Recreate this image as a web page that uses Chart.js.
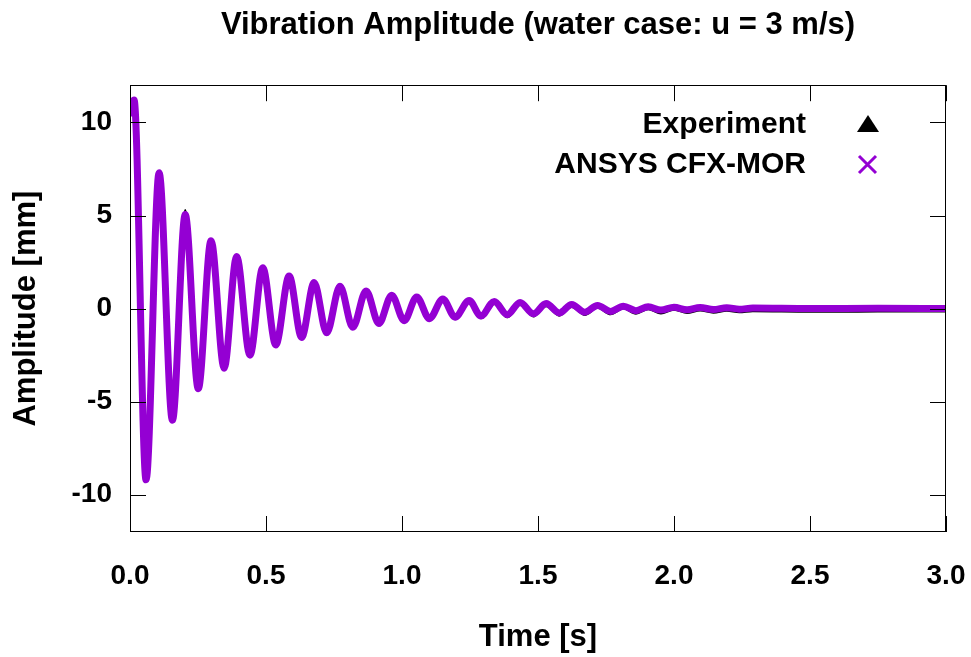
<!DOCTYPE html>
<html>
<head>
<meta charset="utf-8">
<title>Vibration Amplitude</title>
<script src="https://cdn.jsdelivr.net/npm/chart.js@4.4.1/dist/chart.umd.min.js"></script>
<style>
  body { margin: 0; background: #fff; }
</style>
</head>
<body>
<canvas id="myChart" width="971" height="657"></canvas>
<script>
// time of each peak / trough [s]
var times = [0, 0.015, 0.059, 0.107, 0.156, 0.203, 0.251, 0.298, 0.346, 0.392,
             0.441, 0.488, 0.536, 0.585, 0.631, 0.677, 0.723, 0.772, 0.819, 0.868,
             0.915, 0.962, 1.008, 1.054, 1.101, 1.150, 1.195, 1.247, 1.290, 1.339,
             1.387, 1.434, 1.483, 1.530, 1.578, 1.624, 1.672, 1.719, 1.767, 1.814,
             1.860, 1.905, 1.952, 2.000, 2.048, 2.096, 2.145, 2.194, 2.240, 2.290,
             2.500, 2.750, 3.000];

// ANSYS CFX-MOR amplitude [mm]
var simAmp = [10.5, 11.2, -9.2, 7.3, -6.0, 5.05, -4.3, 3.65, -3.2, 2.8,
              -2.5, 2.2, -1.95, 1.75, -1.55, 1.4, -1.3, 1.2, -1.0, 0.95,
              -0.8, 0.72, -0.65, 0.62, -0.54, 0.52, -0.46, 0.43, -0.4, 0.38,
              -0.33, 0.33, -0.28, 0.27, -0.23, 0.22, -0.19, 0.17, -0.15, 0.13,
              -0.11, 0.1, -0.08, 0.07, -0.06, 0.06, -0.05, 0.05, -0.03, 0.03,
              0.0, 0.02, 0.0];

// Experiment amplitude [mm]
var expAmp = [10.75, 11.1, -9.3, 7.2, -6.0, 5.3, -4.35, 3.6, -3.25, 2.75,
              -2.55, 2.15, -2.0, 1.7, -1.6, 1.35, -1.35, 1.12, -1.08, 0.87,
              -0.9, 0.64, -0.74, 0.53, -0.64, 0.42, -0.57, 0.32, -0.52, 0.25,
              -0.47, 0.2, -0.42, 0.13, -0.38, 0.08, -0.34, 0.04, -0.31, 0.0,
              -0.28, -0.03, -0.26, -0.06, -0.24, -0.1, -0.22, -0.12, -0.2, -0.14,
              -0.17, -0.16, -0.15];

var xTicks = [0, 0.5, 1.0, 1.5, 2.0, 2.5, 3.0];
var yTicks = [-10, -5, 0, 5, 10];
var seriesNames = ['Experiment', 'ANSYS CFX-MOR'];

var FONT = "'Liberation Sans', Arial, Helvetica, sans-serif";
var PURPLE = '#9400d3';

function points(vals) {
  return times.map(function (t, i) { return { x: t, y: vals[i] }; });
}

// gnuplot style box, inward ticks on all sides and the key
var frame = {
  id: 'frame',
  afterDraw: function (chart) {
    var ctx = chart.ctx, a = chart.chartArea;
    var xs = chart.scales.x, ys = chart.scales.y;
    var len = 16;
    ctx.save();
    ctx.strokeStyle = '#000';
    ctx.lineWidth = 1;
    ctx.beginPath();
    xTicks.forEach(function (v) {
      var px = Math.round(xs.getPixelForValue(v)) + 0.5;
      ctx.moveTo(px, a.bottom); ctx.lineTo(px, a.bottom - len);
      ctx.moveTo(px, a.top); ctx.lineTo(px, a.top + len);
    });
    yTicks.forEach(function (v) {
      var py = Math.round(ys.getPixelForValue(v)) + 0.5;
      ctx.moveTo(a.left, py); ctx.lineTo(a.left + len, py);
      ctx.moveTo(a.right, py); ctx.lineTo(a.right - len, py);
    });
    ctx.stroke();
    ctx.strokeRect(Math.round(a.left) + 0.5, Math.round(a.top) + 0.5,
                   Math.round(a.right - a.left) - 1, Math.round(a.bottom - a.top) - 1);

    // key
    ctx.fillStyle = '#000';
    ctx.font = 'bold 30px ' + FONT;
    ctx.textAlign = 'right';
    ctx.textBaseline = 'middle';
    ctx.fillText(seriesNames[0], 806, 125);
    ctx.fillText(seriesNames[1], 806, 165);

    ctx.beginPath();
    ctx.moveTo(868, 115);
    ctx.lineTo(879, 132);
    ctx.lineTo(857, 132);
    ctx.closePath();
    ctx.fill();

    ctx.strokeStyle = PURPLE;
    ctx.lineWidth = 3;
    ctx.beginPath();
    ctx.moveTo(859, 156); ctx.lineTo(876, 173);
    ctx.moveTo(876, 156); ctx.lineTo(859, 173);
    ctx.stroke();
    ctx.restore();
  }
};

var ctx = document.getElementById('myChart').getContext('2d');
var myChart = new Chart(ctx, {
  type: 'line',
  data: {
    datasets: [{
      label: seriesNames[0],
      data: points(expAmp),
      borderColor: '#000',
      borderWidth: 2,
      pointRadius: 0,
      cubicInterpolationMode: 'monotone',
      order: 2
    }, {
      label: seriesNames[1],
      data: points(simAmp),
      borderColor: PURPLE,
      borderWidth: 7,
      borderJoinStyle: 'round',
      borderCapStyle: 'round',
      pointRadius: 0,
      cubicInterpolationMode: 'monotone',
      order: 1
    }]
  },
  options: {
    responsive: false,
    animation: false,
    layout: { padding: { left: 0, right: 25, top: 0, bottom: 0 } },
    plugins: {
      legend: { display: false },
      tooltip: { enabled: false },
      title: {
        display: true,
        fullSize: false,
        text: 'Vibration Amplitude (water case: u = 3 m/s)',
        color: '#000',
        font: { family: FONT, size: 31, weight: 'bold' },
        padding: { top: 7, bottom: 41 }
      }
    },
    scales: {
      x: {
        type: 'linear',
        min: 0,
        max: 3,
        afterFit: function (scale) {
          scale.height = 125;
          scale.paddingLeft = 0;
          scale.paddingRight = 0;
        },
        afterBuildTicks: function (scale) {
          scale.ticks = xTicks.map(function (v) { return { value: v }; });
        },
        grid: { display: false, drawTicks: false },
        border: { display: false },
        ticks: {
          color: '#000',
          padding: 27,
          maxRotation: 0,
          font: { family: FONT, size: 28, weight: 'bold' },
          callback: function (v) { return Number(v).toFixed(1); }
        },
        title: {
          display: true,
          text: 'Time [s]',
          color: '#000',
          font: { family: FONT, size: 31, weight: 'bold' },
          padding: { top: 0, bottom: 1 }
        }
      },
      y: {
        min: -12,
        max: 12,
        afterFit: function (scale) {
          scale.width = 130;
          scale.paddingTop = 0;
          scale.paddingBottom = 0;
        },
        afterBuildTicks: function (scale) {
          scale.ticks = yTicks.map(function (v) { return { value: v }; });
        },
        grid: { display: false, drawTicks: false },
        border: { display: false },
        ticks: {
          color: '#000',
          padding: 18,
          font: { family: FONT, size: 28, weight: 'bold' }
        },
        title: {
          display: true,
          text: 'Amplitude [mm]',
          color: '#000',
          font: { family: FONT, size: 31, weight: 'bold' },
          padding: { top: 8, bottom: 0 }
        }
      }
    }
  },
  plugins: [frame]
});
</script>
</body>
</html>
